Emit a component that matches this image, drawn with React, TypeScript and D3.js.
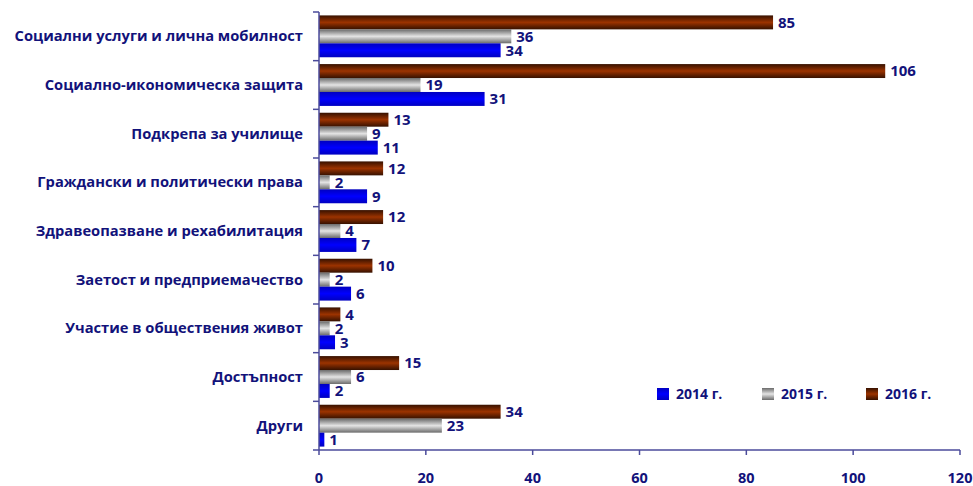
import React from "react";
import * as d3 from "d3";

const categories = [
  "Социални услуги и лична мобилност",
  "Социално-икономическа защита",
  "Подкрепа за училище",
  "Граждански и политически права",
  "Здравеопазване и рехабилитация",
  "Заетост и предприемачество",
  "Участие в обществения живот",
  "Достъпност",
  "Други",
];
const seriesNames = ["2016 г.", "2015 г.", "2014 г."];
const values2016 = [85, 106, 13, 12, 12, 10, 4, 15, 34];
const values2015 = [36, 19, 9, 2, 4, 2, 2, 6, 23];
const values2014 = [34, 31, 11, 9, 7, 6, 3, 2, 1];
const xTicks = [0, 20, 40, 60, 80, 100, 120];
const legendOrder = ["2014 г.", "2015 г.", "2016 г."];

const W = 973, H = 486;
const left = 319, right = 960, top = 12, bottom = 450;
const textColor = "#12127a";
const axisColor = "#4b4b9b";
const font = "'Open Sans', 'Noto Sans', sans-serif";

export default function App() {
  const x = d3.scaleLinear().domain([0, 120]).range([left, right]);
  const y0 = d3.scaleBand<string>().domain(categories).range([top, bottom]).paddingInner(0.14).paddingOuter(0.07);
  const y1 = d3.scaleBand<string>().domain(seriesNames).range([0, y0.bandwidth()]);
  const series = [
    { name: "2016 г.", vals: values2016, fill: "url(#gBrown)" },
    { name: "2015 г.", vals: values2015, fill: "url(#gGrey)" },
    { name: "2014 г.", vals: values2014, fill: "url(#gBlue)" },
  ];
  const fillOf: Record<string, string> = {
    "2014 г.": "url(#gBlue)",
    "2015 г.": "url(#gGrey)",
    "2016 г.": "url(#gBrown)",
  };
  const step = (bottom - top) / categories.length;
  const boundaries = d3.range(categories.length + 1).map((i) => top + i * step);
  const legendX = [657, 762, 866];

  return (
    <svg width={W} height={H} style={{ position: "absolute", left: 0, top: 0 }}>
      <defs>
        <linearGradient id="gBrown" x1="0" y1="0" x2="0" y2="1">
          <stop offset="0" stopColor="#361100" />
          <stop offset="0.5" stopColor="#9c3300" />
          <stop offset="1" stopColor="#361100" />
        </linearGradient>
        <linearGradient id="gGrey" x1="0" y1="0" x2="0" y2="1">
          <stop offset="0" stopColor="#6a6a6a" />
          <stop offset="0.5" stopColor="#e4e4e4" />
          <stop offset="1" stopColor="#6a6a6a" />
        </linearGradient>
        <linearGradient id="gBlue" x1="0" y1="0" x2="0" y2="1">
          <stop offset="0" stopColor="#0000c0" />
          <stop offset="0.5" stopColor="#0000ff" />
          <stop offset="1" stopColor="#0000c0" />
        </linearGradient>
      </defs>
      <rect x={0} y={0} width={W} height={H} fill="#fff" />
      {categories.map((c, ci) => (
        <g key={c} transform={`translate(0,${y0(c)})`}>
          {series.map((s) => (
            <g key={s.name}>
              <rect x={x(0)} y={y1(s.name)} width={x(s.vals[ci]) - x(0)} height={y1.bandwidth()} fill={s.fill} />
              <text
                x={x(s.vals[ci]) + 5}
                y={(y1(s.name) as number) + y1.bandwidth() / 2}
                dy="0.35em"
                fontFamily={font}
                fontWeight="bold"
                fontSize={15}
                fill={textColor}
              >
                {s.vals[ci]}
              </text>
            </g>
          ))}
        </g>
      ))}
      {categories.map((c, ci) => (
        <text
          key={"l" + c}
          x={303}
          y={top + step * (ci + 0.5)}
          dy="0.35em"
          textAnchor="end"
          fontFamily={font}
          fontWeight="bold"
          fontSize={14.7}
          fill={textColor}
        >
          {c}
        </text>
      ))}
      <line x1={left} x2={left} y1={top} y2={bottom} stroke={axisColor} strokeWidth={1.5} />
      {boundaries.map((b, i) => (
        <line key={"yt" + i} x1={left - 6} x2={left} y1={b} y2={b} stroke={axisColor} strokeWidth={1.5} />
      ))}
      <line x1={left} x2={right} y1={bottom} y2={bottom} stroke={axisColor} strokeWidth={1.5} />
      {xTicks.map((t) => (
        <g key={"xt" + t}>
          <line x1={x(t)} x2={x(t)} y1={bottom} y2={bottom + 5} stroke={axisColor} strokeWidth={1.5} />
          <text x={x(t)} y={478} dy="0.35em" textAnchor="middle" fontFamily={font} fontWeight="bold" fontSize={14.5} fill={textColor}>
            {t}
          </text>
        </g>
      ))}
      {legendOrder.map((n, i) => (
        <g key={"lg" + n} transform={`translate(${legendX[i]},388)`}>
          <rect x={0} y={0} width={12} height={12} fill={fillOf[n]} />
          <text x={19} y={6} dy="0.35em" fontFamily={font} fontWeight="bold" fontSize={14} fill={textColor}>
            {n}
          </text>
        </g>
      ))}
    </svg>
  );
}
